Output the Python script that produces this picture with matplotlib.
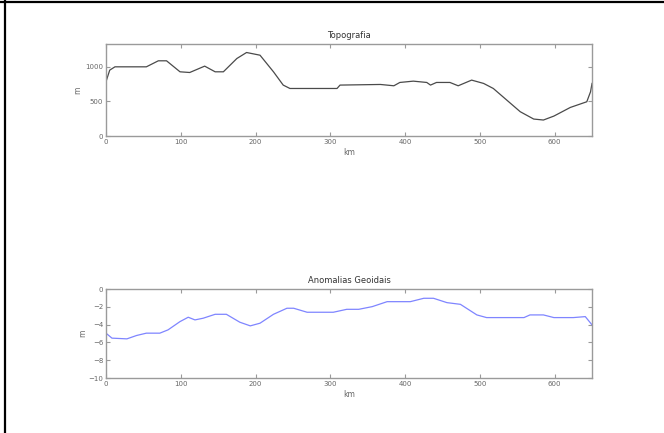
import numpy as np
import matplotlib
matplotlib.use("Agg")
import matplotlib.pyplot as plt
from matplotlib.lines import Line2D

# Topografia (km, m)
topo_km = [0, 5, 12, 54, 61, 70, 81, 99, 112, 132, 146, 157, 175, 188, 206, 224,
           237, 246, 309, 313, 367, 385, 393, 411, 429, 434, 442, 460, 471, 489,
           505, 518, 536, 554, 572, 585, 599, 621, 643, 648, 650]
topo_m = [784, 952, 1000, 1000, 1038, 1087, 1087, 928, 918, 1010, 928, 928, 1120,
          1207, 1168, 928, 736, 687, 687, 736, 745, 726, 774, 793, 774, 736, 774,
          774, 726, 808, 760, 687, 519, 351, 245, 231, 288, 413, 495, 639, 760]

# Anomalias geoidais (km, m)
geo_km = [0, 8, 28, 41, 54, 72, 83, 99, 110, 119, 130, 146, 161, 179, 193, 206,
          224, 242, 251, 269, 304, 322, 338, 356, 376, 407, 425, 438, 456, 474,
          496, 509, 559, 567, 585, 599, 625, 641, 650]
geo_m = [-4.96, -5.52, -5.6, -5.22, -4.96, -4.96, -4.59, -3.66, -3.17, -3.47,
         -3.28, -2.84, -2.84, -3.73, -4.14, -3.84, -2.84, -2.16, -2.16, -2.61,
         -2.61, -2.28, -2.28, -1.98, -1.42, -1.42, -1.04, -1.04, -1.53, -1.72,
         -2.91, -3.21, -3.21, -2.91, -2.91, -3.21, -3.21, -3.1, -4.03]

xticks = [0, 100, 200, 300, 400, 500, 600]

axis_grey = "#9a9a9a"
text_grey = "#666666"

fig = plt.figure(figsize=(6.64, 4.33), dpi=100)
fig.patch.set_facecolor("white")

# figure frame on top and left
fig.add_artist(Line2D([0.0, 1.0], [0.995, 0.995], transform=fig.transFigure,
                      color="black", lw=1.6))
fig.add_artist(Line2D([0.008, 0.008], [0.0, 1.0], transform=fig.transFigure,
                      color="black", lw=1.6))


def style_axes(ax, ypad):
    for s in ax.spines.values():
        s.set_color(axis_grey)
        s.set_linewidth(1.0)
    ax.tick_params(direction="in", length=3, width=0.8, colors=axis_grey,
                   labelcolor=text_grey, labelsize=5, top=True, right=True, pad=2)
    ax.set_xticks(xticks)
    ax.set_xlim(0, 650)
    ax.set_xlabel("km", fontsize=5.5, color=text_grey, labelpad=2)
    ax.set_ylabel("m", fontsize=5.5, color=text_grey, labelpad=ypad)


ax1 = fig.add_axes([0.1596, 0.6859, 0.732, 0.2125])
ax1.plot(topo_km, topo_m, color="#4a4a4a", lw=0.9)
ax1.set_ylim(0, 1330)
ax1.set_yticks([0, 500, 1000])
style_axes(ax1, 2)
ax1.set_title("Topografia", fontsize=6, color="#333333", pad=4)

ax2 = fig.add_axes([0.1596, 0.127, 0.732, 0.2055])
ax2.plot(geo_km, geo_m, color="#7f85ff", lw=0.9)
ax2.set_ylim(-10, 0)
ax2.set_yticks([0, -2, -4, -6, -8, -10])
style_axes(ax2, 1)
ax2.set_title("Anomalias Geoidais", fontsize=6, color="#333333", pad=4)

fig.savefig("out.png", dpi=100)
